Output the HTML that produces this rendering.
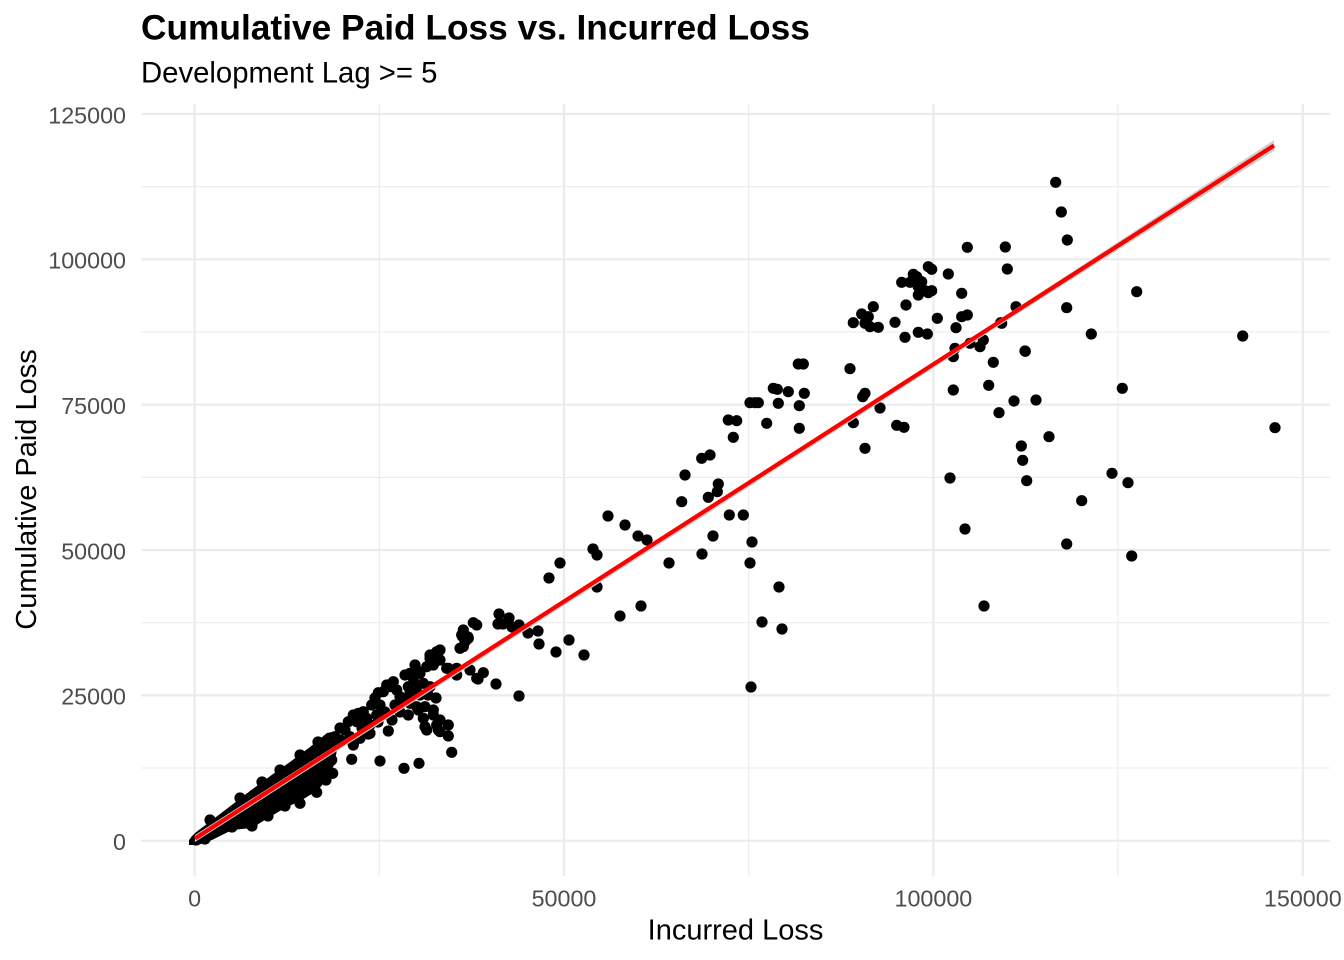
<!DOCTYPE html>
<html>
<head>
<meta charset="utf-8">
<style>
html,body{margin:0;padding:0;background:#fff;}
svg{display:block;}
text{font-family:"Liberation Sans",Arial,sans-serif;}
</style>
</head>
<body>
<svg width="1344" height="960" viewBox="0 0 1344 960" xmlns="http://www.w3.org/2000/svg">
<rect width="1344" height="960" fill="#fff"/>
<!-- minor gridlines -->
<g stroke="#ebebeb" stroke-width="1.1">
<line x1="141" x2="1330" y1="768" y2="768"/>
<line x1="141" x2="1330" y1="622.7" y2="622.7"/>
<line x1="141" x2="1330" y1="477.4" y2="477.4"/>
<line x1="141" x2="1330" y1="332" y2="332"/>
<line x1="141" x2="1330" y1="186.7" y2="186.7"/>
<line y1="104" y2="876" x1="379.3" x2="379.3"/>
<line y1="104" y2="876" x1="748.7" x2="748.7"/>
<line y1="104" y2="876" x1="1118" x2="1118"/>
</g>
<!-- major gridlines -->
<g stroke="#ebebeb" stroke-width="2.2">
<line x1="141" x2="1330" y1="840.7" y2="840.7"/>
<line x1="141" x2="1330" y1="695.4" y2="695.4"/>
<line x1="141" x2="1330" y1="550" y2="550"/>
<line x1="141" x2="1330" y1="404.7" y2="404.7"/>
<line x1="141" x2="1330" y1="259.3" y2="259.3"/>
<line x1="141" x2="1330" y1="114" y2="114"/>
<line y1="104" y2="876" x1="194.6" x2="194.6"/>
<line y1="104" y2="876" x1="564" x2="564"/>
<line y1="104" y2="876" x1="933.4" x2="933.4"/>
<line y1="104" y2="876" x1="1302.8" x2="1302.8"/>
</g>

<!-- dense blob near origin -->
<polygon fill="#000" points="189,840 195,833 220,814 250,791 273,774 290,762 310,747 327,733 337,731 338,745 334,765 328,778 318,790 302,800 285,808 268,818 252,828 232,830 212,840 198,845 189,845"/>

<g fill="#000">
<circle cx="196" cy="840" r="5.6"/><circle cx="205" cy="839" r="5.6"/>
<circle cx="232" cy="827" r="5.6"/><circle cx="252" cy="826" r="5.6"/><circle cx="268" cy="816" r="5.6"/>
<circle cx="285" cy="806" r="5.6"/><circle cx="300" cy="803.3" r="5.6"/><circle cx="316.7" cy="792.3" r="5.6"/>
<circle cx="326" cy="780" r="5.6"/><circle cx="332.7" cy="773.3" r="5.6"/><circle cx="331.7" cy="760" r="5.6"/>
<circle cx="331.7" cy="748.3" r="5.6"/><circle cx="210" cy="820" r="5.6"/><circle cx="240" cy="798" r="5.6"/>
<circle cx="262" cy="782" r="5.6"/><circle cx="280" cy="770" r="5.6"/><circle cx="300" cy="755" r="5.6"/>
<circle cx="318" cy="742" r="5.6"/>

<!-- cluster 330-480 -->
<circle cx="473.3" cy="622.7" r="5.6"/><circle cx="476.7" cy="625" r="5.6"/><circle cx="463.3" cy="630" r="5.6"/>
<circle cx="462.7" cy="636.7" r="5.6"/><circle cx="465" cy="638.3" r="5.6"/><circle cx="468.3" cy="638.3" r="5.6"/>
<circle cx="465" cy="641.7" r="5.6"/><circle cx="460" cy="648.3" r="5.6"/><circle cx="463.3" cy="646.7" r="5.6"/>
<circle cx="461.7" cy="635" r="5.6"/>
<circle cx="436.7" cy="651.7" r="5.6"/><circle cx="430" cy="655" r="5.6"/><circle cx="438.3" cy="660" r="5.6"/>
<circle cx="433.3" cy="665" r="5.6"/><circle cx="426.7" cy="666.7" r="5.6"/><circle cx="430" cy="658.3" r="5.6"/>
<circle cx="415" cy="665" r="5.6"/><circle cx="416.7" cy="670" r="5.6"/><circle cx="410" cy="673.3" r="5.6"/>
<circle cx="405" cy="675" r="5.6"/><circle cx="420" cy="673.3" r="5.6"/><circle cx="413.3" cy="678.3" r="5.6"/>
<circle cx="448.3" cy="668.3" r="5.6"/><circle cx="456.7" cy="675" r="5.6"/><circle cx="470" cy="670" r="5.6"/>
<circle cx="476.7" cy="678.3" r="5.6"/><circle cx="483.3" cy="672.7" r="5.6"/><circle cx="446.7" cy="668.3" r="5.6"/>
<circle cx="456.7" cy="668.3" r="5.6"/><circle cx="440" cy="650" r="5.6"/><circle cx="440" cy="660" r="5.6"/>
<circle cx="393.3" cy="681.7" r="5.6"/><circle cx="390" cy="686.7" r="5.6"/><circle cx="396.7" cy="690" r="5.6"/>
<circle cx="383.3" cy="691.7" r="5.6"/><circle cx="400" cy="696.7" r="5.6"/><circle cx="408.3" cy="686.7" r="5.6"/>
<circle cx="416.7" cy="686.7" r="5.6"/><circle cx="423.3" cy="683.3" r="5.6"/><circle cx="430" cy="686.7" r="5.6"/>
<circle cx="386.7" cy="685" r="5.6"/>
<circle cx="436" cy="698" r="5.6"/><circle cx="403.3" cy="700" r="5.6"/><circle cx="410" cy="703.3" r="5.6"/>
<circle cx="416.7" cy="706.7" r="5.6"/><circle cx="425" cy="706.7" r="5.6"/><circle cx="433.3" cy="710" r="5.6"/>
<circle cx="408.3" cy="715" r="5.6"/><circle cx="423.3" cy="718.3" r="5.6"/><circle cx="433.3" cy="715" r="5.6"/>
<circle cx="440" cy="720" r="5.6"/><circle cx="436.7" cy="725" r="5.6"/><circle cx="418.3" cy="710" r="5.6"/>
<circle cx="425" cy="726.7" r="5.6"/><circle cx="426.7" cy="730" r="5.6"/><circle cx="440" cy="731.7" r="5.6"/>
<circle cx="448.3" cy="725" r="5.6"/><circle cx="448.3" cy="736" r="5.6"/><circle cx="438.3" cy="730" r="5.6"/>
<circle cx="451.7" cy="752.3" r="5.6"/>
<circle cx="371.7" cy="705" r="5.6"/><circle cx="363.3" cy="711.7" r="5.6"/><circle cx="358.3" cy="713.3" r="5.6"/>
<circle cx="353.3" cy="715" r="5.6"/><circle cx="348.3" cy="721.7" r="5.6"/><circle cx="356.7" cy="721.7" r="5.6"/>
<circle cx="366.7" cy="718.3" r="5.6"/><circle cx="376.7" cy="715" r="5.6"/><circle cx="360" cy="716.7" r="5.6"/>
<circle cx="388.3" cy="731" r="5.6"/><circle cx="368.3" cy="734" r="5.6"/><circle cx="360" cy="738.3" r="5.6"/>
<circle cx="353.3" cy="743.3" r="5.6"/><circle cx="350" cy="736.7" r="5.6"/><circle cx="340" cy="740" r="5.6"/>
<circle cx="335" cy="736.7" r="5.6"/><circle cx="330" cy="740" r="5.6"/><circle cx="353.3" cy="745" r="5.6"/>
<circle cx="351.7" cy="759.3" r="5.6"/><circle cx="380" cy="761" r="5.6"/><circle cx="404" cy="768.3" r="5.6"/>
<circle cx="419" cy="763.3" r="5.6"/><circle cx="378.3" cy="692.7" r="5.6"/><circle cx="370" cy="733.3" r="5.6"/>
<circle cx="375" cy="698" r="5.6"/><circle cx="380" cy="705" r="5.6"/><circle cx="395" cy="705" r="5.6"/>
<circle cx="400" cy="712" r="5.6"/><circle cx="392" cy="720" r="5.6"/><circle cx="385" cy="712" r="5.6"/>
<circle cx="370" cy="725" r="5.6"/><circle cx="378" cy="722" r="5.6"/><circle cx="345" cy="730" r="5.6"/>
<circle cx="362" cy="728" r="5.6"/><circle cx="410" cy="693" r="5.6"/><circle cx="420" cy="695" r="5.6"/>
<circle cx="428" cy="695" r="5.6"/><circle cx="340" cy="728" r="5.6"/>

<!-- mid region -->
<circle cx="608" cy="516" r="5.6"/><circle cx="729.3" cy="515" r="5.6"/><circle cx="743.3" cy="515" r="5.6"/>
<circle cx="625" cy="525" r="5.6"/><circle cx="638" cy="536" r="5.6"/><circle cx="647" cy="540" r="5.6"/>
<circle cx="752" cy="542" r="5.6"/><circle cx="713" cy="536" r="5.6"/><circle cx="593" cy="549" r="5.6"/>
<circle cx="597" cy="555" r="5.6"/><circle cx="560" cy="563" r="5.6"/><circle cx="669" cy="563" r="5.6"/>
<circle cx="702" cy="554" r="5.6"/><circle cx="750" cy="563" r="5.6"/><circle cx="549" cy="578" r="5.6"/>
<circle cx="597" cy="587" r="5.6"/><circle cx="779" cy="587" r="5.6"/><circle cx="641" cy="606" r="5.6"/>
<circle cx="620" cy="616" r="5.6"/><circle cx="762" cy="622" r="5.6"/><circle cx="782" cy="629" r="5.6"/>
<circle cx="499" cy="614" r="5.6"/><circle cx="509" cy="618" r="5.6"/><circle cx="498" cy="624" r="5.6"/>
<circle cx="503" cy="624" r="5.6"/><circle cx="512" cy="627" r="5.6"/><circle cx="519" cy="625" r="5.6"/>
<circle cx="468" cy="637" r="5.6"/><circle cx="528" cy="633" r="5.6"/><circle cx="538" cy="631" r="5.6"/>
<circle cx="539" cy="644" r="5.6"/><circle cx="556" cy="652" r="5.6"/><circle cx="569" cy="640" r="5.6"/>
<circle cx="584" cy="655" r="5.6"/><circle cx="478" cy="679" r="5.6"/><circle cx="496" cy="684" r="5.6"/>
<circle cx="519" cy="696" r="5.6"/><circle cx="751" cy="687" r="5.6"/>

<!-- 60k-100k region -->
<circle cx="798.3" cy="364" r="5.6"/><circle cx="803.3" cy="364" r="5.6"/><circle cx="773.3" cy="388.3" r="5.6"/>
<circle cx="777.3" cy="389.3" r="5.6"/><circle cx="788.3" cy="391.7" r="5.6"/><circle cx="804.3" cy="393.3" r="5.6"/>
<circle cx="750" cy="402.7" r="5.6"/><circle cx="755" cy="402.7" r="5.6"/><circle cx="758.3" cy="402.7" r="5.6"/>
<circle cx="778.3" cy="403.3" r="5.6"/><circle cx="799.3" cy="405.7" r="5.6"/><circle cx="728.3" cy="420" r="5.6"/>
<circle cx="736.7" cy="420.7" r="5.6"/><circle cx="766.7" cy="423.3" r="5.6"/><circle cx="799.3" cy="428.3" r="5.6"/>
<circle cx="733.3" cy="437.3" r="5.6"/><circle cx="701.7" cy="458.3" r="5.6"/><circle cx="710" cy="455" r="5.6"/>
<circle cx="685" cy="475" r="5.6"/><circle cx="718.3" cy="484" r="5.6"/><circle cx="717.3" cy="491.7" r="5.6"/>
<circle cx="708.3" cy="497.3" r="5.6"/><circle cx="681.7" cy="501.7" r="5.6"/>

<!-- upper right -->
<circle cx="1055.7" cy="182.3" r="5.6"/><circle cx="1061.3" cy="212" r="5.6"/><circle cx="1067.3" cy="240" r="5.6"/>
<circle cx="1005.3" cy="247" r="5.6"/><circle cx="967.3" cy="247.3" r="5.6"/><circle cx="1007.3" cy="269" r="5.6"/>
<circle cx="1136.7" cy="291.7" r="5.6"/><circle cx="1016" cy="306.7" r="5.6"/><circle cx="1066.7" cy="307.7" r="5.6"/>
<circle cx="1001.7" cy="323.3" r="5.6"/><circle cx="1091.3" cy="334" r="5.6"/><circle cx="1242.7" cy="336" r="5.6"/>
<circle cx="1025.3" cy="351.3" r="5.6"/><circle cx="1122.3" cy="388.3" r="5.6"/><circle cx="1014" cy="401" r="5.6"/>
<circle cx="1036" cy="400" r="5.6"/><circle cx="999" cy="412.7" r="5.6"/><circle cx="1275" cy="427.7" r="5.6"/>
<circle cx="1049" cy="436.7" r="5.6"/><circle cx="1021.3" cy="446" r="5.6"/><circle cx="1022.7" cy="460.3" r="5.6"/>
<circle cx="1026.7" cy="480.7" r="5.6"/><circle cx="1112" cy="473.3" r="5.6"/><circle cx="1128" cy="482.7" r="5.6"/>
<circle cx="1081.7" cy="500.7" r="5.6"/><circle cx="1066.7" cy="544" r="5.6"/><circle cx="1131.7" cy="556" r="5.6"/>
<circle cx="984" cy="606" r="5.6"/><circle cx="965" cy="529" r="5.6"/><circle cx="950" cy="478" r="5.6"/>

<circle cx="928.3" cy="266.7" r="5.6"/><circle cx="931.7" cy="269.3" r="5.6"/><circle cx="913.3" cy="274.3" r="5.6"/>
<circle cx="916.7" cy="276.7" r="5.6"/><circle cx="901.7" cy="282.3" r="5.6"/><circle cx="910" cy="282.3" r="5.6"/>
<circle cx="921.7" cy="281.7" r="5.6"/><circle cx="918.3" cy="286.7" r="5.6"/><circle cx="925" cy="290.7" r="5.6"/>
<circle cx="931.7" cy="290.7" r="5.6"/><circle cx="918.3" cy="295" r="5.6"/><circle cx="928.3" cy="292.7" r="5.6"/>
<circle cx="948.3" cy="274" r="5.6"/><circle cx="961.7" cy="293.3" r="5.6"/><circle cx="873.3" cy="306.7" r="5.6"/>
<circle cx="906" cy="305" r="5.6"/><circle cx="861.7" cy="314" r="5.6"/><circle cx="868.3" cy="316.7" r="5.6"/>
<circle cx="853.3" cy="322.7" r="5.6"/><circle cx="865" cy="323.3" r="5.6"/><circle cx="870" cy="326.7" r="5.6"/>
<circle cx="878.3" cy="327.3" r="5.6"/><circle cx="895" cy="322.3" r="5.6"/><circle cx="937.3" cy="318.3" r="5.6"/>
<circle cx="961.7" cy="316.7" r="5.6"/><circle cx="967.3" cy="315" r="5.6"/><circle cx="956" cy="327.7" r="5.6"/>
<circle cx="905" cy="337.3" r="5.6"/><circle cx="918.3" cy="332.3" r="5.6"/><circle cx="927.3" cy="334" r="5.6"/>
<circle cx="1000.7" cy="322.7" r="5.6"/><circle cx="955" cy="348.3" r="5.6"/><circle cx="953.3" cy="356.7" r="5.6"/>
<circle cx="970" cy="343.3" r="5.6"/><circle cx="980" cy="346.7" r="5.6"/><circle cx="983.3" cy="340" r="5.6"/>
<circle cx="1025" cy="351" r="5.6"/><circle cx="993.3" cy="362.3" r="5.6"/><circle cx="850" cy="368.7" r="5.6"/>
<circle cx="865" cy="393.3" r="5.6"/><circle cx="862.7" cy="396.7" r="5.6"/><circle cx="880" cy="408" r="5.6"/>
<circle cx="853.3" cy="422.7" r="5.6"/><circle cx="896.7" cy="425.3" r="5.6"/><circle cx="904" cy="427.3" r="5.6"/>
<circle cx="865" cy="448.3" r="5.6"/><circle cx="953.3" cy="390" r="5.6"/><circle cx="988.7" cy="385.3" r="5.6"/>
</g>

<!-- confidence band -->
<polygon fill="#d0d0d0" points="195,835 700,513.5 1000,319 1274,140 1274,151 1000,325 700,518.5 195,842"/>
<!-- regression line -->
<line x1="195" y1="838.5" x2="1274" y2="145.5" stroke="#ff0000" stroke-width="4.2" stroke-linecap="butt"/>

<!-- y tick labels -->
<g fill="#4d4d4d" font-size="23.3" text-anchor="end">
<text x="126" y="850">0</text>
<text x="126" y="704.7">25000</text>
<text x="126" y="559.3">50000</text>
<text x="126" y="414">75000</text>
<text x="126" y="268.6">100000</text>
<text x="126" y="123.3">125000</text>
</g>
<!-- x tick labels -->
<g fill="#4d4d4d" font-size="23.3" text-anchor="middle">
<text x="194.6" y="906.5">0</text>
<text x="564" y="906.5">50000</text>
<text x="933.4" y="906.5">100000</text>
<text x="1302.8" y="906.5">150000</text>
</g>
<!-- axis titles -->
<text x="735.5" y="939.5" font-size="29" text-anchor="middle" fill="#000">Incurred Loss</text>
<text transform="translate(36,489.5) rotate(-90)" font-size="29" text-anchor="middle" fill="#000">Cumulative Paid Loss</text>
<!-- titles -->
<text x="141" y="39.3" font-size="35.3" font-weight="bold" fill="#000">Cumulative Paid Loss vs. Incurred Loss</text>
<text x="141" y="82.7" font-size="29.3" fill="#000">Development Lag &gt;= 5</text>
</svg>
</body>
</html>
